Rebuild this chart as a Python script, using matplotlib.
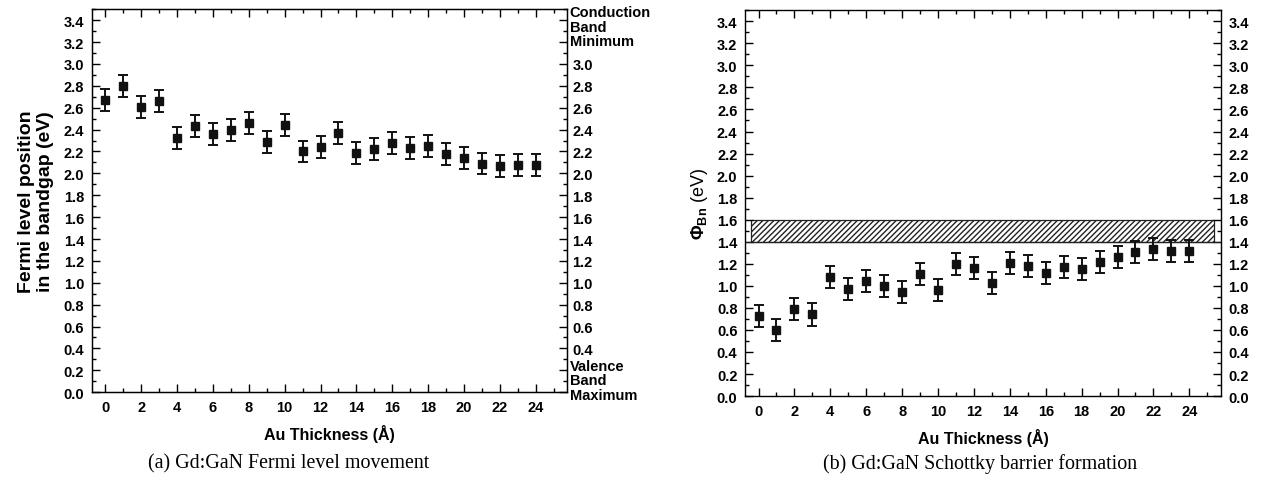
import matplotlib
matplotlib.use("Agg")
import matplotlib.pyplot as plt
from matplotlib import ticker
from matplotlib.patches import Rectangle

plt.rcParams['font.family'] = ['Liberation Sans', 'DejaVu Sans']
plt.rcParams['font.weight'] = 'bold'
plt.rcParams['mathtext.fontset'] = 'custom'
plt.rcParams['mathtext.rm'] = 'Liberation Sans'
plt.rcParams['mathtext.bf'] = 'Liberation Sans:bold'
plt.rcParams['mathtext.it'] = 'Liberation Sans:italic'

# Au thickness (Angstrom)
thickness = list(range(25))

# (a) Fermi level position in the bandgap (eV)
fermi_level = [2.67, 2.80, 2.61, 2.66, 2.32, 2.43, 2.36, 2.40, 2.46, 2.29,
               2.44, 2.20, 2.24, 2.37, 2.19, 2.22, 2.28, 2.23, 2.25, 2.18,
               2.14, 2.09, 2.07, 2.08, 2.08]
fermi_err = [0.10] * 25

# (b) Schottky barrier height (eV)
barrier = [0.73, 0.60, 0.79, 0.74, 1.08, 0.97, 1.04, 1.00, 0.94, 1.11,
           0.96, 1.20, 1.16, 1.03, 1.21, 1.18, 1.12, 1.17, 1.15, 1.22,
           1.26, 1.31, 1.33, 1.32, 1.32]
barrier_err = [0.10] * 25

band_low, band_high = 1.4, 1.6

y_ticks = [round(0.2 * i, 1) for i in range(18)]
right_labels_a = ["" if (v < 0.3 or v > 3.1) else f"{v:.1f}" for v in y_ticks]

TICK_FS = 10.5

fig = plt.figure(figsize=(12.65, 4.89), dpi=100)
ax1 = fig.add_axes([0.0727, 0.196, 0.3755, 0.783])
ax2 = fig.add_axes([0.589, 0.188, 0.376, 0.789])


def style_axis(ax):
    ax.set_xlim(-0.75, 25.75)
    ax.set_ylim(0, 3.5)
    ax.xaxis.set_major_locator(ticker.MultipleLocator(2))
    ax.xaxis.set_minor_locator(ticker.MultipleLocator(1))
    ax.yaxis.set_major_locator(ticker.FixedLocator(y_ticks))
    ax.yaxis.set_minor_locator(ticker.MultipleLocator(0.1))
    ax.yaxis.set_major_formatter(ticker.FormatStrFormatter("%.1f"))
    ax.tick_params(which='both', direction='in', top=True, right=True,
                   width=1.0, labelsize=TICK_FS)
    ax.tick_params(which='major', length=6)
    ax.tick_params(which='minor', length=3.2)
    ax.tick_params(axis='x', which='major', pad=6)
    ax.tick_params(axis='y', which='major', pad=5.5)
    for s in ax.spines.values():
        s.set_linewidth(1.0)
    ax.set_xlabel("Au Thickness (Å)", fontsize=11.5, fontweight='bold', labelpad=7)


def draw_points(ax, y, err):
    ax.errorbar(thickness, y, yerr=err, fmt='s', color='#111111', ms=5.5,
                elinewidth=1.4, capsize=3.3, capthick=1.4)


# panel (a)
style_axis(ax1)
draw_points(ax1, fermi_level, fermi_err)
ax1.set_ylabel("Fermi level position\nin the bandgap (eV)", fontsize=14,
               fontweight='bold', labelpad=7, linespacing=1.15)
tw = ax1.twinx()
tw.set_ylim(0, 3.5)
tw.yaxis.set_major_locator(ticker.FixedLocator(y_ticks))
tw.yaxis.set_minor_locator(ticker.MultipleLocator(0.1))
tw.set_yticklabels(right_labels_a)
tw.tick_params(which='both', direction='in', width=1.0, labelsize=TICK_FS)
tw.tick_params(which='major', length=6, pad=4)
tw.tick_params(which='minor', length=3.2)
ax1.tick_params(which='both', right=False)
ax1.text(1.006, 3.34, "Conduction\nBand\nMinimum", transform=ax1.get_yaxis_transform(),
         ha='left', va='center', fontsize=TICK_FS, fontweight='bold', linespacing=1.05)
ax1.text(1.006, 0.11, "Valence\nBand\nMaximum", transform=ax1.get_yaxis_transform(),
         ha='left', va='center', fontsize=TICK_FS, fontweight='bold', linespacing=1.05)

# panel (b)
style_axis(ax2)
ax2.tick_params(axis='y', labelright=True)
ax2.axhline(band_low, color='#222222', lw=0.9)
ax2.add_patch(Rectangle((-0.4, band_low), 25.8, band_high - band_low,
                        facecolor='none', edgecolor='#222222', hatch='//////', lw=0.9))
draw_points(ax2, barrier, barrier_err)
ax2.set_ylabel(r"$\Phi_{\mathbf{Bn}}$ (eV)", fontsize=13, fontweight='normal', labelpad=5)

fig.text(0.2285, 0.052, "(a) Gd:GaN Fermi level movement", fontsize=14.4,
         fontweight='normal', family='Liberation Serif', ha='center', va='center')
fig.text(0.7745, 0.052, "(b) Gd:GaN Schottky barrier formation", fontsize=14.4,
         fontweight='normal', family='Liberation Serif', ha='center', va='center')

fig.savefig("out.png", dpi=100)
